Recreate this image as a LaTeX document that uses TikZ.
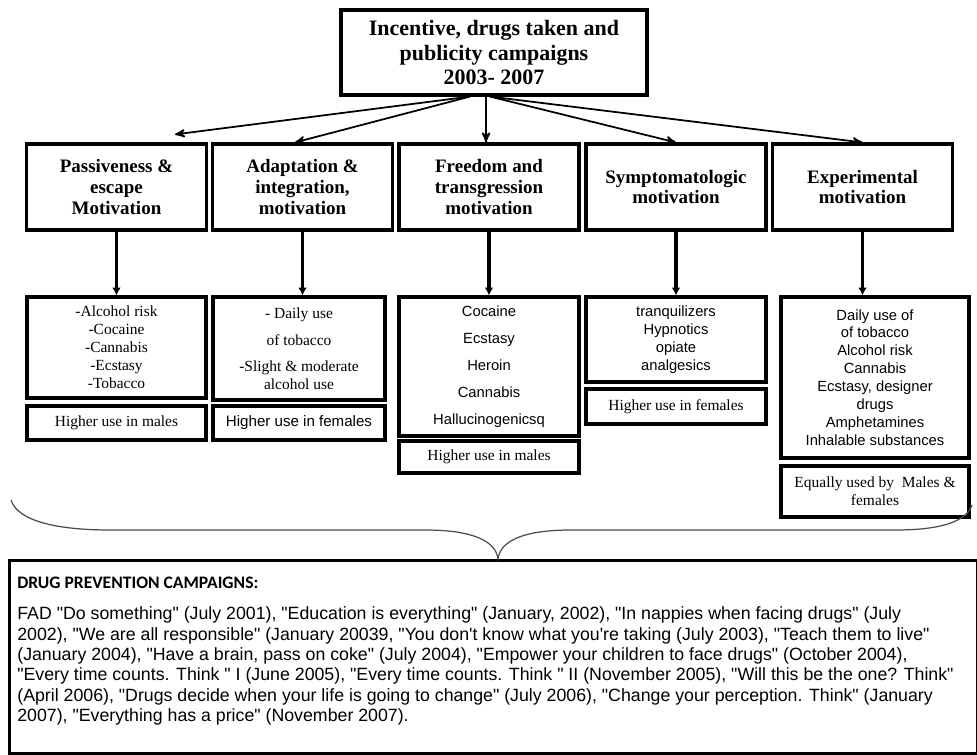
\documentclass[tikz,border=0pt]{standalone}
\usepackage{fontspec}
\setmainfont{Liberation Serif}
\setsansfont{Liberation Sans}
\newfontfamily\capsfont{Carlito}
\newfontfamily\campfont{Liberation Sans}[Ligatures=ResetAll]
\usepackage{tikz}
\usetikzlibrary{shapes,arrows,arrows.meta}
\tikzstyle{block} = [rectangle, draw, line width=1.8pt,
    text centered, align=center, inner sep=1pt]
\tikzstyle{motive} = [block, minimum width=3.6cm, minimum height=1.72cm,
    font=\bfseries\fontsize{10.8}{11.9}\selectfont]
\tikzstyle{drugs} = [block, font=\fontsize{8.8}{10.2}\selectfont]
\tikzstyle{drugssf} = [block, font=\sffamily\fontsize{8.4}{10.2}\selectfont]
\tikzstyle{gender} = [block, font=\fontsize{8.8}{10.2}\selectfont]

\begin{document}
\begin{tikzpicture}[x=0.02cm, y=-0.02cm,
  line/.style={->, >=stealth', line width=1pt},
  drop/.style={-{Latex[length=4.5pt,width=5pt]}, line width=1.8pt},
  brace/.style={draw=black!70, line width=0.7pt}]
\useasboundingbox (0,0) rectangle (977,754);

\node [block, minimum width=6.12cm, minimum height=1.7cm, font=\bfseries\fontsize{12.5}{14}\selectfont] at (494,52.5) (top) {Incentive, drugs taken and\\publicity campaigns\\2003- 2007};

% motivations
\node [motive] at (116.5,187) (m1) {Passiveness \&\\escape\\Motivation};
\node [motive] at (302.5,187) (m2) {Adaptation \&\\integration,\\motivation};
\node [motive] at (489,187) (m3) {Freedom and\\transgression\\motivation};
\node [motive] at (676,187) (m4) {Symptomatologic\\motivation};
\node [motive] at (862.5,187) (m5) {Experimental\\motivation};

\draw [line] ([xshift=-0.48cm] top.south) -- ([xshift=1.17cm, yshift=0.16cm] m1.north);
\draw [line] ([xshift=-0.48cm] top.south) -- ([xshift=-0.15cm] m2.north);
\draw [line] ([xshift=-0.16cm] top.south) -- ([xshift=-0.06cm] m3.north);
\draw [line] ([xshift=-0.08cm] top.south) -- (m4.north);
\draw [line] ([xshift=-0.08cm] top.south) -- (m5.north);

% drugs taken
\node [drugs, minimum width=3.58cm, minimum height=2.02cm] at (116.5,347.5) (d1) {-Alcohol risk\\-Cocaine\\-Cannabis\\-Ecstasy\\-Tobacco};
\node [drugs, minimum width=3.44cm, minimum height=2.06cm] at (299,348.5) (d2) {- Daily use\\[5pt]of tobacco\\[4.5pt]-Slight \& moderate\\alcohol use};
\node [drugssf, minimum width=3.6cm, minimum height=2.78cm, font=\sffamily\fontsize{8.4}{15.3}\selectfont] at (489,366.5) (d3) {Cocaine\\Ecstasy\\Heroin\\Cannabis\\Hallucinogenicsq};
\node [drugssf, minimum width=3.6cm, minimum height=1.7cm] at (676,339.5) (d4) {tranquilizers\\Hypnotics\\opiate\\analgesics};
\node [drugssf, minimum width=3.76cm, minimum height=3.22cm] at (875,377.5) (d5) {Daily use of\\of tobacco\\Alcohol risk\\Cannabis\\Ecstasy, designer\\drugs\\Amphetamines\\Inhalable substances};

\draw [drop] (m1.south) -- (m1.south |- d1.north);
\draw [drop] (m2.south) -- (m2.south |- d2.north);
\draw [drop] (m3.south) -- (m3.south |- d3.north);
\draw [drop] (m4.south) -- (m4.south |- d4.north);
\draw [drop] (m5.south) -- (m5.south |- d5.north);

% use by sex
\node [gender, minimum width=3.58cm, minimum height=0.68cm] at (116.5,423) (g1) {Higher use in males};
\node [gender, minimum width=3.44cm, minimum height=0.68cm, font=\sffamily\fontsize{8.6}{10}\selectfont] at (299,423) (g2) {Higher use in females};
\node [gender, minimum width=3.6cm, minimum height=0.64cm] at (489,457) (g3) {Higher use in males};
\node [gender, minimum width=3.6cm, minimum height=0.7cm] at (676,406.5) (g4) {Higher use in females};
\node [gender, minimum width=3.76cm, minimum height=1.02cm] at (875,491.5) (g5) {Equally used by\ \ Males \&\\females};

% campaigns
\node [draw, line width=1.8pt, anchor=north west, minimum width=19.36cm, minimum height=3.86cm, inner sep=0pt] at (8,559) (camp) {};
\node [anchor=north west, align=left, inner sep=0pt, font=\campfont\fontsize{10.1}{11.6}\selectfont] at ([xshift=0.18cm, yshift=-0.36cm] camp.north west) (camptext) {{\capsfont\bfseries\fontsize{10}{11.6}\selectfont DRUG PREVENTION CAMPAIGNS:}\\[6pt]
FAD "Do something" (July 2001), "Education is everything" (January, 2002), "In nappies when facing drugs" (July\\
2002), "We are all responsible" (January 20039, "You don't know what you're taking (July 2003), "Teach them to live"\\
(January 2004), "Have a brain, pass on coke" (July 2004), "Empower your children to face drugs" (October 2004),\\
"Every time counts. Think " I (June 2005), "Every time counts. Think " II (November 2005), "Will this be the one? Think"\\
(April 2006), "Drugs decide when your life is going to change" (July 2006), "Change your perception. Think" (January\\
2007), "Everything has a price" (November 2007).};

\draw [brace] (11,500) .. controls (18,522) and (60,530) .. (110,530) -- (425,530) .. controls (475,530) and (496,542) .. (498,559) .. controls (500,542) and (521,530) .. (571,530) -- (895,530) .. controls (940,530) and (966,522) .. (972,505);
\end{tikzpicture}
\end{document}
